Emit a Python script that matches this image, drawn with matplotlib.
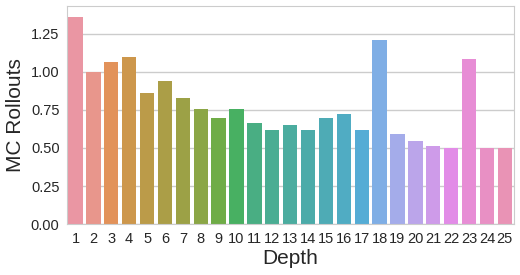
import matplotlib
matplotlib.use("Agg")
import matplotlib.pyplot as plt
import seaborn as sns
import numpy as np

depths = [str(i) for i in range(1, 26)]
rollouts = [1.36, 1.00, 1.06, 1.095, 0.857, 0.936, 0.824, 0.752, 0.693, 0.758,
            0.66, 0.62, 0.647, 0.614, 0.699, 0.719, 0.614, 1.206, 0.588, 0.542,
            0.515, 0.502, 1.081, 0.50, 0.50]
yticks = [0.0, 0.25, 0.5, 0.75, 1.0, 1.25]

sns.set_style("whitegrid")
plt.rcParams['font.family'] = ['Liberation Sans', 'DejaVu Sans']

colors = [sns.desaturate(c, 0.75) for c in sns.husl_palette(len(depths), l=.7)]

fig = plt.figure(figsize=(5.2, 2.75), dpi=100)
ax = fig.add_axes([0.128, 0.185, 0.86, 0.793])
x = np.arange(len(depths))
ax.bar(x, rollouts, width=0.8, color=colors, edgecolor='none', zorder=2)
ax.set_xticks(x)
ax.set_xticklabels(depths, fontsize=10.5)
ax.set_xlim(-0.5, len(depths) - 0.5)
ax.set_ylim(0, 1.43)
ax.set_yticks(yticks)
ax.set_yticklabels([f"{v:.2f}" for v in yticks], fontsize=10.5)
ax.xaxis.grid(False)
ax.yaxis.grid(True, color='#cccccc', linewidth=1)
ax.set_axisbelow(True)
for s in ax.spines.values():
    s.set_color('#cccccc')
ax.tick_params(axis='x', colors='#262626', pad=5.5, length=0)
ax.tick_params(axis='y', colors='#262626', pad=5, length=0)
ax.set_xlabel("Depth", fontsize=15, color='#262626', labelpad=2)
ax.set_ylabel("MC Rollouts", fontsize=15, color='#262626', labelpad=4)
fig.savefig("out.png", dpi=100)
